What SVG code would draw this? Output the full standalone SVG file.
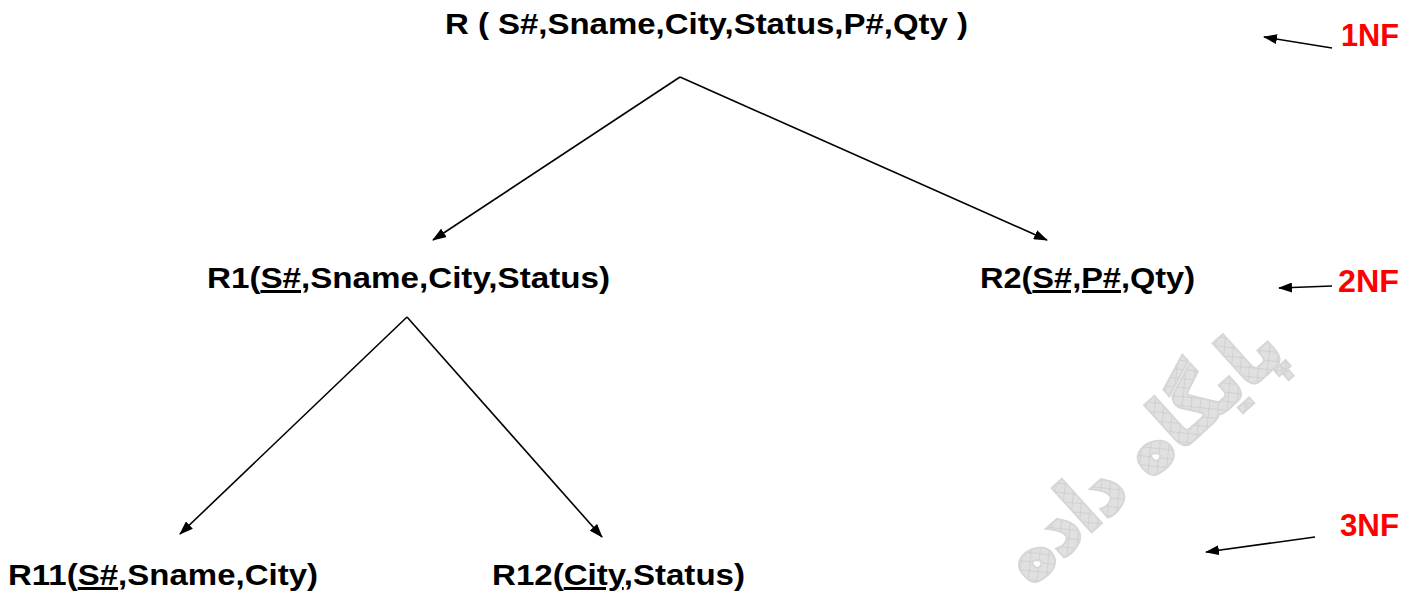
<svg xmlns="http://www.w3.org/2000/svg" width="1418" height="603" viewBox="0 0 1418 603">
<style>
.t{font-family:"Liberation Sans",Arial,sans-serif;font-weight:bold;font-size:30px;fill:#000}
.nf{font-family:"Liberation Sans",Arial,sans-serif;font-weight:bold;font-size:32px;fill:#ff0000}
.u{text-decoration:underline}
.c{stroke:#000;stroke-width:1.6;fill:none;marker-end:url(#ah)}
.wm{font-family:"DejaVu Sans",sans-serif;font-weight:bold;font-size:76px;fill:url(#grid);stroke:#d6d6d6;stroke-width:4;paint-order:stroke}
</style>
<defs>
<marker id="ah" viewBox="0 0 14 10" refX="13" refY="5" markerWidth="14" markerHeight="10" markerUnits="userSpaceOnUse" orient="auto">
<path d="M0,0 L14,5 L0,10 Z" fill="#000"/>
</marker>
<pattern id="grid" width="9" height="9" patternUnits="userSpaceOnUse" patternTransform="rotate(-42)">
<rect width="9" height="9" fill="#e0e0e0"/>
<path d="M0,0 H9 M0,0 V9" stroke="#bbbbbb" stroke-width="0.8"/>
</pattern>
</defs>
<g id="watermark">
<text class="wm" x="1140" y="478" text-anchor="middle" transform="rotate(-42 1140 450)" textLength="345" lengthAdjust="spacingAndGlyphs">پایگاه داده</text>
</g>
<g id="connectors">
<line class="c" x1="680" y1="77" x2="433" y2="240"/>
<line class="c" x1="680" y1="77" x2="1047" y2="240"/>
<line class="c" x1="407" y1="317" x2="180" y2="534"/>
<line class="c" x1="407" y1="317" x2="602" y2="537"/>
<line class="c" x1="1332" y1="48" x2="1264" y2="37"/>
<line class="c" x1="1332" y1="286" x2="1279" y2="288"/>
<line class="c" x1="1315" y1="537" x2="1206" y2="552"/>
</g>
<g id="R">
<text class="t" x="445" y="34" textLength="523" lengthAdjust="spacingAndGlyphs">R ( S#,Sname,City,Status,P#,Qty )</text>
</g>
<g id="R1">
<text class="t" x="207" y="288" textLength="403" lengthAdjust="spacingAndGlyphs">R1(<tspan class="u">S#</tspan>,Sname,City,Status)</text>
</g>
<g id="R2">
<text class="t" x="980" y="288" textLength="215" lengthAdjust="spacingAndGlyphs">R2(<tspan class="u">S#,P#</tspan>,Qty)</text>
</g>
<g id="R11">
<text class="t" x="8" y="585" textLength="310" lengthAdjust="spacingAndGlyphs">R11(<tspan class="u">S#</tspan>,Sname,City)</text>
</g>
<g id="R12">
<text class="t" x="492" y="585" textLength="253" lengthAdjust="spacingAndGlyphs">R12(<tspan class="u">City</tspan>,Status)</text>
</g>
<g id="NF1"><text class="nf" x="1341" y="46" textLength="58" lengthAdjust="spacingAndGlyphs">1NF</text></g>
<g id="NF2"><text class="nf" x="1338" y="292" textLength="61" lengthAdjust="spacingAndGlyphs">2NF</text></g>
<g id="NF3"><text class="nf" x="1340" y="536" textLength="59" lengthAdjust="spacingAndGlyphs">3NF</text></g>
</svg>
